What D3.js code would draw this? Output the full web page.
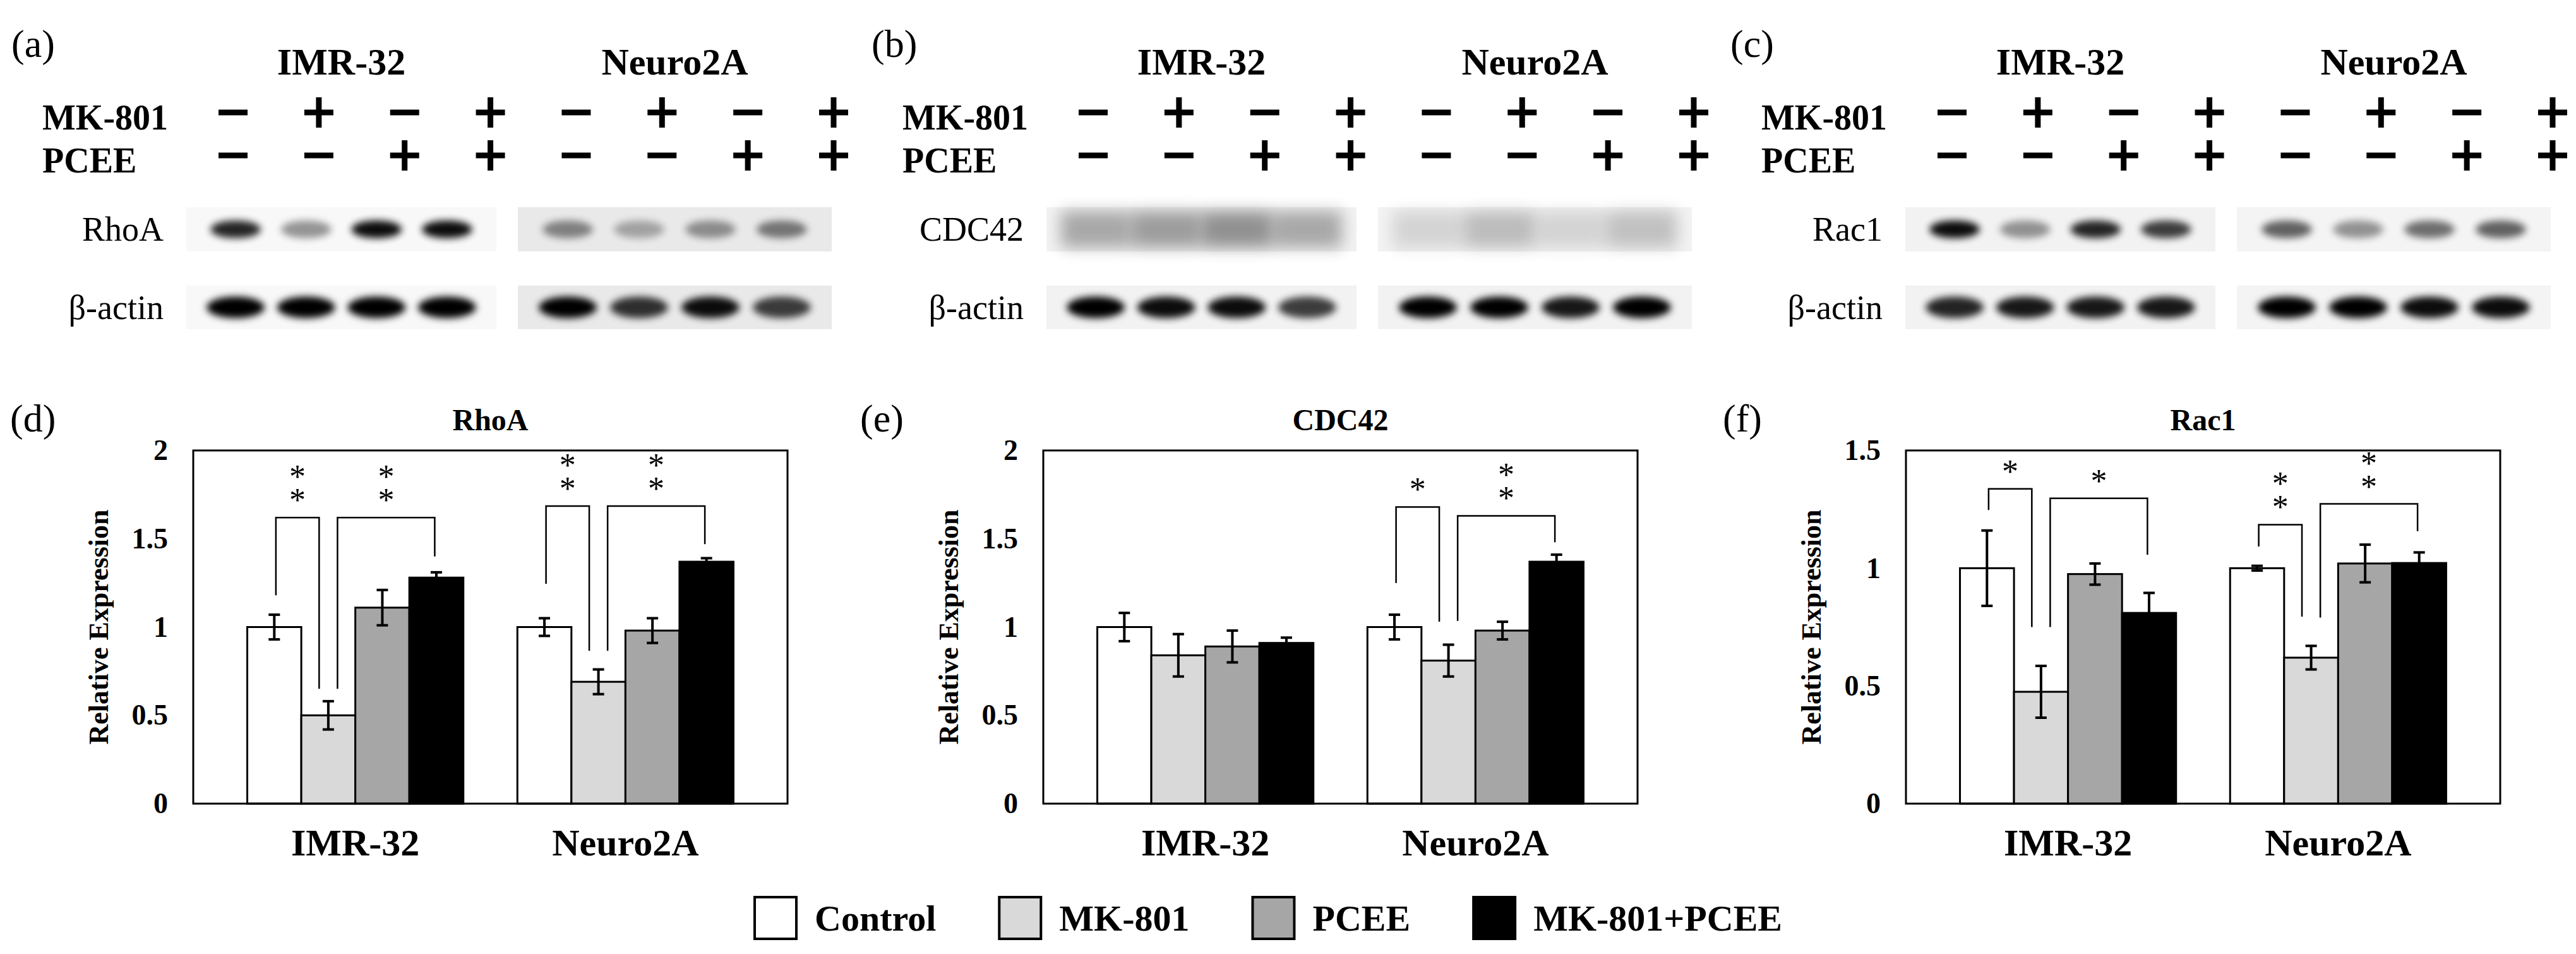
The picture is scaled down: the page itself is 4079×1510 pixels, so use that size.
<!DOCTYPE html>
<html>
<head>
<meta charset="utf-8">
<script src="https://cdn.jsdelivr.net/npm/d3@7"></script>
<style>
  body { margin: 0; background: #fff; }
  svg { font-family: 'Liberation Serif', 'Times New Roman', serif; }
</style>
</head>
<body>
<svg id="fig" width="4079" height="1510"></svg>
<script>
// ---- data ----
const cellLines = ['IMR-32', 'Neuro2A'];
const treatments = ['Control', 'MK-801', 'PCEE', 'MK-801+PCEE'];
const treatmentFills = ['#ffffff', '#d9d9d9', '#a6a6a6', '#000000'];
const mkSigns = ['-', '+', '-', '+', '-', '+', '-', '+'];
const pceeSigns = ['-', '-', '+', '+', '-', '-', '+', '+'];

const blotLabels = ['(a)', '(b)', '(c)'];
const blotTargets = ['RhoA', 'CDC42', 'Rac1'];
// band darkness per lane, [IMR-32, Neuro2A]
const targetBands = [
  [[0.85, 0.4, 0.95, 0.95], [0.45, 0.3, 0.4, 0.5]],
  [[0.3, 0.35, 0.4, 0.3], [0.12, 0.22, 0.12, 0.2]],
  [[0.95, 0.4, 0.85, 0.75], [0.6, 0.4, 0.55, 0.6]]
];
const actinBands = [
  [[1, 1, 1, 1], [1, 0.8, 0.95, 0.75]],
  [[1, 0.95, 0.95, 0.75], [1, 1, 0.9, 1]],
  [[0.85, 0.9, 0.9, 0.9], [1, 1, 0.95, 0.95]]
];
const blotBg = [['#f8f8f8', '#e9e9e9'], ['#f2f2f2', '#f2f2f2'], ['#f2f2f2', '#f4f4f4']];

const chartLabels = ['(d)', '(e)', '(f)'];
const chartTitles = ['RhoA', 'CDC42', 'Rac1'];
const yMaxes = [2, 2, 1.5];
const rhoaMean = [[1.0, 0.5, 1.11, 1.28], [1.0, 0.69, 0.98, 1.37]];
const rhoaErr = [[0.07, 0.08, 0.1, 0.03], [0.05, 0.07, 0.07, 0.02]];
const cdc42Mean = [[1.0, 0.84, 0.89, 0.91], [1.0, 0.81, 0.98, 1.37]];
const cdc42Err = [[0.08, 0.12, 0.09, 0.03], [0.07, 0.09, 0.05, 0.04]];
const rac1Mean = [[1.0, 0.475, 0.975, 0.81], [1.0, 0.62, 1.02, 1.022]];
const rac1Err = [[0.16, 0.11, 0.045, 0.085], [0.01, 0.05, 0.08, 0.045]];
// significance brackets: group, from bar, to bar, top, left leg end, right leg end
const rhoaSig = [
  { g: 0, from: 0, to: 1, top: 1.62, l: 1.18, r: 0.65, label: '**' },
  { g: 0, from: 1, to: 3, top: 1.62, l: 0.65, r: 1.40, label: '**' },
  { g: 1, from: 0, to: 1, top: 1.685, l: 1.245, r: 0.866, label: '**' },
  { g: 1, from: 1, to: 3, top: 1.685, l: 0.866, r: 1.47, label: '**' }
];
const cdc42Sig = [
  { g: 1, from: 0, to: 1, top: 1.68, l: 1.25, r: 1.03, label: '*' },
  { g: 1, from: 1, to: 3, top: 1.63, l: 1.035, r: 1.48, label: '**' }
];
const rac1Sig = [
  { g: 0, from: 0, to: 1, top: 1.337, l: 1.247, r: 0.75, label: '*' },
  { g: 0, from: 1, to: 3, top: 1.297, l: 0.75, r: 1.057, label: '*' },
  { g: 1, from: 0, to: 1, top: 1.185, l: 1.092, r: 0.794, label: '**' },
  { g: 1, from: 1, to: 3, top: 1.273, l: 0.79, r: 1.157, label: '**' }
];
const means = [rhoaMean, cdc42Mean, rac1Mean];
const errs = [rhoaErr, cdc42Err, rac1Err];
const sigs = [rhoaSig, cdc42Sig, rac1Sig];

// ---- drawing ----
const svg = d3.select('#fig');
const defs = svg.append('defs');
defs.append('filter').attr('id', 'blur').attr('x', '-50%').attr('y', '-100%').attr('width', '200%').attr('height', '300%')
  .append('feGaussianBlur').attr('stdDeviation', 6);
defs.append('filter').attr('id', 'blur2').attr('x', '-50%').attr('y', '-50%').attr('width', '200%').attr('height', '200%')
  .append('feGaussianBlur').attr('stdDeviation', 12);

// top row: western blots
const blotCols = [0, 1362, 2722];
blotTargets.forEach((target, k) => {
  const g = svg.append('g').attr('transform', `translate(${blotCols[k]},0)`);
  g.append('text').attr('x', 18).attr('y', 90).style('font-size', '62px').text(blotLabels[k]);

  const signX = d3.scalePoint().domain(d3.range(8)).range([369, 1320]);
  const groupX = [[295, 786], [820, 1317]];
  cellLines.forEach((c, ci) => {
    g.append('text').attr('x', (groupX[ci][0] + groupX[ci][1]) / 2).attr('y', 118)
      .attr('text-anchor', 'middle').style('font-size', '60px').style('font-weight', 'bold').text(c);
  });
  g.append('text').attr('x', 67).attr('y', 205).style('font-size', '56px').style('font-weight', 'bold').text('MK-801');
  g.append('text').attr('x', 67).attr('y', 273).style('font-size', '56px').style('font-weight', 'bold').text('PCEE');

  [[mkSigns, 178], [pceeSigns, 246]].forEach(([signs, cy]) => {
    signs.forEach((s, i) => {
      const cx = signX(i);
      g.append('line').attr('x1', cx - 23).attr('x2', cx + 23).attr('y1', cy).attr('y2', cy)
        .attr('stroke', '#000').attr('stroke-width', 9);
      if (s === '+') {
        g.append('line').attr('x1', cx).attr('x2', cx).attr('y1', cy - 24).attr('y2', cy + 24)
          .attr('stroke', '#000').attr('stroke-width', 9);
      }
    });
  });

  const rows = [
    { label: target, y0: 328, y1: 398, bands: targetBands[k], h: 28, w: 80 },
    { label: 'β-actin', y0: 452, y1: 521, bands: actinBands[k], h: 34, w: 92 }
  ];
  rows.forEach((row, ri) => {
    g.append('text').attr('x', 259).attr('y', (row.y0 + row.y1) / 2 + 18).attr('text-anchor', 'end')
      .style('font-size', '54px').text(row.label);
    cellLines.forEach((c, ci) => {
      const [x0, x1] = groupX[ci];
      g.append('rect').attr('x', x0).attr('y', row.y0).attr('width', x1 - x0).attr('height', row.y1 - row.y0)
        .attr('fill', blotBg[k][ci]);
      const lane = d3.scalePoint().domain(d3.range(4)).range([x0, x1]).padding(0.7);
      const cy = (row.y0 + row.y1) / 2;
      const smear = (k === 1 && ri === 0);
      row.bands[ci].forEach((v, i) => {
        if (smear) {
          g.append('rect').attr('x', lane(i) - 55).attr('y', row.y0 + 6).attr('width', 110)
            .attr('height', row.y1 - row.y0 - 12).attr('fill', '#000').attr('opacity', v)
            .attr('filter', 'url(#blur2)');
        } else {
          g.append('ellipse').attr('cx', lane(i)).attr('cy', cy).attr('rx', row.w / 2).attr('ry', row.h / 2)
            .attr('fill', '#000').attr('opacity', v).attr('filter', 'url(#blur)');
        }
      });
    });
  });
});

// bottom row: bar charts
const chartLeft = [306, 1652, 3018];
const cw = 941, plotTop = 713, plotBottom = 1272;
chartTitles.forEach((title, k) => {
  const g = svg.append('g').attr('transform', `translate(${chartLeft[k]},0)`);
  const x0 = d3.scaleBand().domain(cellLines).range([0, cw]).paddingInner(0.2).paddingOuter(0.2);
  const x1 = d3.scaleBand().domain(d3.range(4)).range([0, x0.bandwidth()]);
  const y = d3.scaleLinear().domain([0, yMaxes[k]]).range([plotBottom, plotTop]);
  const bw = x1.bandwidth();
  const cx = (gi, i) => x0(cellLines[gi]) + x1(i) + bw / 2;

  g.append('text').attr('x', -290).attr('y', 683).style('font-size', '62px').text(chartLabels[k]);
  g.append('text').attr('x', cw / 2).attr('y', 681).attr('text-anchor', 'middle')
    .style('font-size', '48px').style('font-weight', 'bold').text(title);

  const yAxis = d3.axisLeft(y).ticks(yMaxes[k] / 0.5).tickFormat(d3.format('~g')).tickSize(0).tickPadding(40);
  const ax = g.append('g').call(yAxis);
  ax.select('.domain').remove();
  ax.selectAll('text').style('font-size', '46px').style('font-weight', 'bold')
    .style('font-family', "'Liberation Serif', serif");

  g.append('text').attr('transform', `translate(-135,${(plotTop + plotBottom) / 2}) rotate(-90)`)
    .attr('text-anchor', 'middle').style('font-size', '44px').style('font-weight', 'bold').text('Relative Expression');

  // bars
  cellLines.forEach((c, gi) => {
    const bars = g.append('g').attr('transform', `translate(${x0(c)},0)`);
    bars.selectAll('rect').data(means[k][gi]).join('rect')
      .attr('x', (d, i) => x1(i)).attr('width', bw)
      .attr('y', d => y(d)).attr('height', d => y(0) - y(d))
      .attr('fill', (d, i) => treatmentFills[i]).attr('stroke', '#000').attr('stroke-width', 3);
    means[k][gi].forEach((m, i) => {
      const e = errs[k][gi][i];
      const xc = x1(i) + bw / 2;
      bars.append('line').attr('x1', xc).attr('x2', xc).attr('y1', y(m - e)).attr('y2', y(m + e))
        .attr('stroke', '#000').attr('stroke-width', 4);
      [m - e, m + e].forEach(v => bars.append('line').attr('x1', xc - 9).attr('x2', xc + 9)
        .attr('y1', y(v)).attr('y2', y(v)).attr('stroke', '#000').attr('stroke-width', 4));
    });
  });

  cellLines.forEach(c => {
    g.append('text').attr('x', x0(c) + x0.bandwidth() / 2).attr('y', 1354).attr('text-anchor', 'middle')
      .style('font-size', '60px').style('font-weight', 'bold').text(c);
  });

  // significance brackets
  sigs[k].forEach(s => {
    const xa = cx(s.g, s.from) + (s.from === 1 ? 0.17 * bw : 0.03 * bw);
    const xb = cx(s.g, s.to) + (s.to === 1 ? -0.17 * bw : -0.03 * bw);
    g.append('path')
      .attr('d', `M${xa},${y(s.l)}V${y(s.top)}H${xb}V${y(s.r)}`)
      .attr('fill', 'none').attr('stroke', '#000').attr('stroke-width', 2.5);
    s.label.split('').forEach((st, si) => {
      g.append('text').attr('x', (xa + xb) / 2).attr('y', y(s.top) - 34 - si * 37 + 24)
        .attr('text-anchor', 'middle').style('font-size', '52px').text('*');
    });
  });

  g.append('rect').attr('x', 0).attr('y', plotTop).attr('width', cw).attr('height', plotBottom - plotTop)
    .attr('fill', 'none').attr('stroke', '#000').attr('stroke-width', 3);
});

// legend
let lx = 1195;
treatments.forEach((t, i) => {
  svg.append('rect').attr('x', lx).attr('y', 1420).attr('width', 66).attr('height', 66)
    .attr('fill', treatmentFills[i]).attr('stroke', '#000').attr('stroke-width', 4);
  const txt = svg.append('text').attr('x', lx + 95).attr('y', 1473)
    .style('font-size', '58px').style('font-weight', 'bold').text(t);
  lx += 95 + txt.node().getComputedTextLength() + 100;
});
</script>
</body>
</html>
